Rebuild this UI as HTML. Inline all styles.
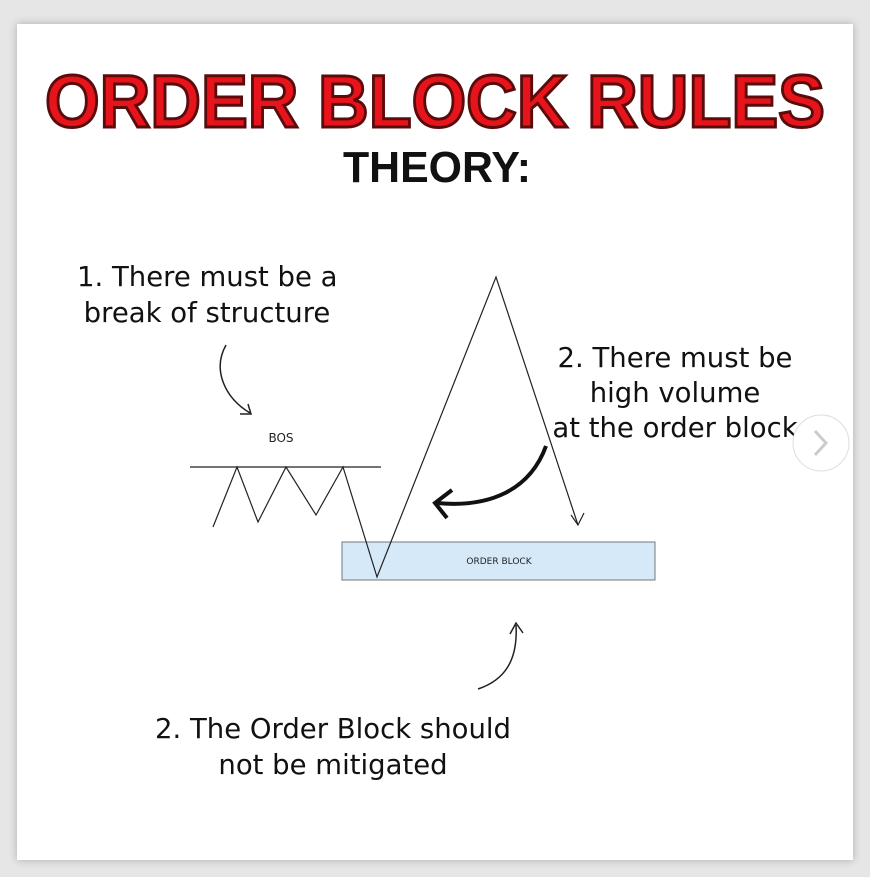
<!DOCTYPE html>
<html><head><style>
body{margin:0;width:870px;height:877px;background:#e6e6e6;position:relative;overflow:hidden;font-family:"DejaVu Sans","Liberation Sans",sans-serif}
.panel{position:absolute;left:17px;top:24px;width:836px;height:836px;background:#fff;box-shadow:0 0 8px rgba(0,0,0,.25)}
.t{position:absolute;white-space:nowrap;font-size:27.5px;color:#111}
</style></head><body>
<div class="panel"></div>
<svg width="870" height="877" style="position:absolute;left:0;top:0">
<text x="435" y="127" text-anchor="middle" font-family="Liberation Sans" font-weight="bold" font-size="74" fill="#e8141b" stroke="#5a0c0c" stroke-width="3" textLength="780" lengthAdjust="spacingAndGlyphs">ORDER BLOCK RULES</text>
<text x="437" y="182" text-anchor="middle" font-family="Liberation Sans" font-weight="bold" font-size="44" fill="#111" textLength="188" lengthAdjust="spacingAndGlyphs">THEORY:</text>
<rect x="342" y="542" width="313" height="38" fill="#d6e9f9" stroke="#777" stroke-width="1"/>
<text x="499" y="564" text-anchor="middle" font-size="9" fill="#222">ORDER BLOCK</text>
<line x1="190" y1="467" x2="381" y2="467" stroke="#222" stroke-width="1.2"/>
<polyline points="213,527 237,467 258,522 286,467 316,515 343,467 377,577 496,277 578,525" fill="none" stroke="#222" stroke-width="1.2"/>
<polyline points="571,515 578,525 584,513" fill="none" stroke="#222" stroke-width="1.2"/>
<text x="281" y="442" text-anchor="middle" font-size="12" fill="#222">BOS</text>
<path d="M226,345 C212,370 225,398 250,413" fill="none" stroke="#222" stroke-width="1.5"/>
<polyline points="240,414 251,414 248,404" fill="none" stroke="#222" stroke-width="1.5"/>
<path d="M546,446 C530,490 490,508 437,503" fill="none" stroke="#111" stroke-width="4"/>
<polyline points="452,490 435,503 447,518" fill="none" stroke="#111" stroke-width="4"/>
<path d="M478,689 C505,680 518,660 516,625" fill="none" stroke="#222" stroke-width="1.5"/>
<polyline points="510,634 516,623 523,633" fill="none" stroke="#222" stroke-width="1.5"/>
</svg>
<div class="t" style="left:77px;top:259px;line-height:36px;text-align:center;width:260px;">1. There must be a<br>break of structure</div>
<div class="t" style="left:545px;top:341px;line-height:35px;text-align:center;width:260px;">2. There must be<br>high volume<br>at the order block</div>
<div class="t" style="left:133px;top:711px;line-height:36px;text-align:center;width:400px;">2. The Order Block should<br>not be mitigated</div>
<svg width="870" height="877" style="position:absolute;left:0;top:0">
<circle cx="821" cy="443" r="28" fill="#fff" stroke="#ddd"/>
<polyline points="815,431 826,443 815,455" fill="none" stroke="#ccc" stroke-width="3"/>
</svg>
</body></html>
